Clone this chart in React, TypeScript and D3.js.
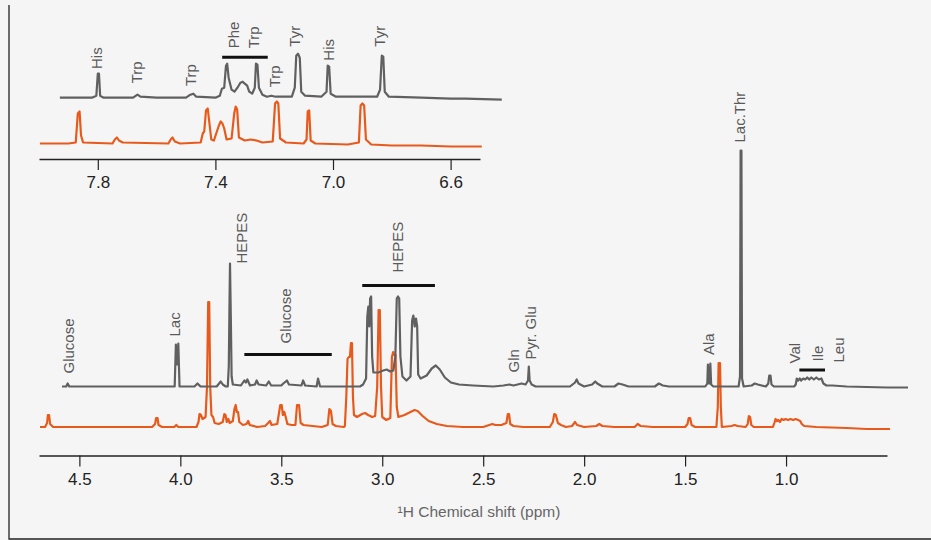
import React, { useEffect, useRef } from 'react';
import * as d3 from 'd3';

// main spectrum, [ppm, intensity]
const grayMain: [number, number][] = [
  [4.586, 0], [4.565, 0], [4.558, 3], [4.55, 0], [4.03, 0], [4.028, 0], [4.022, 42], [4.016, 22], [4.01, 43], [4.004, 0],
  [3.93, 0], [3.915, 3], [3.9, 0], [3.82, 0], [3.8, 5], [3.79, 2], [3.775, 0],
  [3.765, 0], [3.76, 20], [3.757, 74], [3.754, 123], [3.75, 70], [3.746, 10], [3.74, 2],
  [3.7, 1], [3.683, 6], [3.675, 4], [3.668, 7], [3.655, 1], [3.63, 2], [3.622, 6], [3.612, 2], [3.575, 1], [3.562, 5], [3.55, 1],
  [3.5, 1], [3.49, 3], [3.472, 6], [3.462, 2], [3.4, 1], [3.392, 6], [3.382, 1], [3.325, 0], [3.318, 8], [3.308, 0],
  [3.2, 0], [3.11, 0], [3.095, 2], [3.08, 8], [3.074, 70], [3.069, 80], [3.064, 60], [3.06, 88], [3.055, 90], [3.05, 30], [3.044, 14],
  [3.02, 14], [2.995, 16], [2.978, 17], [2.96, 15], [2.945, 16],
  [2.935, 30], [2.928, 88], [2.922, 90], [2.916, 88], [2.91, 30], [2.9, 10],
  [2.88, 6], [2.86, 10], [2.852, 66], [2.846, 71], [2.839, 60], [2.833, 68], [2.827, 60], [2.822, 12], [2.81, 8],
  [2.78, 11], [2.755, 18], [2.735, 21], [2.715, 17], [2.69, 9], [2.66, 4], [2.62, 2], [2.55, 1], [2.45, 0],
  [2.4, 1], [2.37, 2], [2.35, 1], [2.31, 3], [2.29, 2], [2.278, 6], [2.274, 20], [2.27, 6], [2.26, 2], [2.24, 0],
  [2.07, 0], [2.045, 4], [2.037, 7], [2.028, 3], [2.0, 0], [1.96, 2], [1.945, 5], [1.935, 3], [1.91, 0],
  [1.85, 0], [1.83, 3], [1.81, 2], [1.78, 0], [1.65, 0], [1.63, 3], [1.61, 1], [1.58, 0],
  [1.4, 0], [1.39, 3], [1.387, 22], [1.383, 3], [1.378, 3], [1.375, 23], [1.371, 2], [1.36, 0],
  [1.235, 0], [1.228, 10], [1.225, 236], [1.221, 236], [1.218, 8], [1.21, 0],
  [1.17, 1], [1.155, 3], [1.14, 2], [1.1, 0], [1.088, 3], [1.083, 11], [1.077, 11], [1.072, 2], [1.06, 0],
  [0.96, 0], [0.952, 2], [0.947, 8], [0.94, 6], [0.932, 8], [0.925, 6], [0.915, 8], [0.905, 7], [0.895, 9], [0.885, 7],
  [0.875, 9], [0.862, 7], [0.85, 9], [0.838, 7], [0.825, 8], [0.815, 3], [0.8, 1], [0.77, 1], [0.7, 0], [0.5, -1], [0.396, -1],
];

const orangeMain: [number, number][] = [
  [4.695, 0], [4.67, 0], [4.66, 4], [4.656, 12], [4.65, 12], [4.645, 3], [4.63, 0],
  [4.14, 0], [4.125, 3], [4.12, 9], [4.113, 9], [4.108, 2], [4.09, 0], [4.03, 0], [4.02, 2], [4.01, 0],
  [3.92, 0], [3.91, 5], [3.905, 13], [3.898, 12], [3.89, 8], [3.875, 10], [3.868, 40], [3.862, 125], [3.857, 125], [3.852, 40],
  [3.846, 12], [3.838, 10], [3.83, 4], [3.81, 3], [3.79, 5], [3.782, 13], [3.776, 12], [3.77, 5], [3.762, 8], [3.756, 4],
  [3.74, 6], [3.732, 18], [3.726, 22], [3.72, 15], [3.714, 15], [3.708, 5], [3.69, 2], [3.672, 3], [3.664, 6], [3.656, 2],
  [3.62, 0], [3.58, 1], [3.565, 4], [3.556, 6], [3.548, 2], [3.52, 3], [3.505, 22], [3.498, 22], [3.492, 12], [3.485, 15],
  [3.478, 10], [3.47, 3], [3.45, 2], [3.43, 2], [3.422, 22], [3.412, 22], [3.404, 4], [3.39, 2], [3.3, 0],
  [3.27, 2], [3.262, 18], [3.254, 16], [3.246, 3], [3.23, 1], [3.19, 0],
  [3.185, 1], [3.178, 30], [3.172, 68], [3.166, 70], [3.16, 70], [3.155, 84], [3.15, 84], [3.145, 30], [3.14, 12],
  [3.125, 10], [3.1, 13], [3.085, 14], [3.07, 12], [3.05, 10], [3.035, 11], [3.025, 40], [3.018, 117], [3.012, 117], [3.006, 40],
  [3.0, 10], [2.98, 7], [2.96, 9], [2.952, 70], [2.946, 75], [2.94, 72], [2.934, 72], [2.928, 20], [2.92, 10],
  [2.89, 12], [2.86, 15], [2.84, 17], [2.825, 16], [2.8, 11], [2.77, 6], [2.73, 3], [2.68, 1], [2.6, 0],
  [2.5, 0], [2.47, 2], [2.455, 3], [2.44, 2], [2.41, 2], [2.385, 4], [2.378, 13], [2.372, 13], [2.366, 3], [2.35, 1], [2.3, 0],
  [2.17, 0], [2.155, 5], [2.148, 13], [2.14, 12], [2.13, 4], [2.115, 2], [2.09, 0], [2.06, 1], [2.045, 5], [2.035, 2], [2.0, 0],
  [1.94, 1], [1.925, 3], [1.91, 1], [1.85, 0], [1.75, 0], [1.735, 3], [1.72, 1], [1.66, 0],
  [1.5, 0], [1.488, 3], [1.482, 9], [1.475, 9], [1.468, 2], [1.45, 0],
  [1.345, 0], [1.338, 20], [1.334, 64], [1.327, 64], [1.323, 20], [1.318, 0], [1.27, 1], [1.255, 2], [1.24, 1], [1.2, 0],
  [1.19, 3], [1.184, 11], [1.178, 10], [1.172, 2], [1.16, 0],
  [1.065, 0], [1.058, 4], [1.052, 8], [1.045, 6], [1.038, 7], [1.03, 5], [1.022, 8], [1.012, 7], [1.002, 8], [0.99, 7],
  [0.978, 8], [0.965, 7], [0.952, 8], [0.94, 7], [0.93, 6], [0.922, 3], [0.91, 1], [0.85, 0], [0.7, -1], [0.6, -2], [0.485, -2],
];

// aromatic region inset
const grayInset: [number, number][] = [
  [7.929, 0], [7.82, 0], [7.805, 2], [7.8, 24], [7.796, 24], [7.792, 2], [7.78, 0], [7.68, 0], [7.665, 3], [7.655, 1], [7.6, 0],
  [7.5, 0], [7.485, 3], [7.475, 4], [7.465, 1], [7.4, 0], [7.385, 2], [7.378, 9], [7.37, 10], [7.364, 32], [7.36, 34], [7.355, 20],
  [7.345, 8], [7.335, 6], [7.325, 10], [7.315, 15], [7.307, 16], [7.3, 14], [7.292, 12], [7.285, 6], [7.275, 4],
  [7.266, 10], [7.262, 34], [7.257, 33], [7.252, 10], [7.24, 3], [7.225, 1], [7.21, 2], [7.195, 1], [7.14, 1],
  [7.13, 10], [7.125, 42], [7.119, 44], [7.113, 40], [7.108, 6], [7.095, 2], [7.04, 1], [7.022, 6], [7.018, 32], [7.013, 31],
  [7.008, 4], [6.99, 1], [6.85, 1], [6.84, 8], [6.834, 42], [6.829, 41], [6.824, 6], [6.81, 1], [6.7, 0], [6.6, -1], [6.55, -1], [6.426, -2],
];

const orangeInset: [number, number][] = [
  [7.997, 0], [7.9, 0], [7.875, 1], [7.868, 30], [7.862, 32], [7.857, 8], [7.85, 1], [7.75, 0], [7.742, 4], [7.735, 6], [7.728, 3],
  [7.715, 1], [7.56, 0], [7.552, 4], [7.546, 6], [7.538, 2], [7.52, 0], [7.45, 1], [7.443, 10], [7.438, 12], [7.432, 33],
  [7.426, 35], [7.421, 22], [7.414, 4], [7.405, 3], [7.395, 12], [7.388, 18], [7.382, 22], [7.376, 20], [7.37, 15], [7.362, 4],
  [7.345, 5], [7.336, 30], [7.331, 37], [7.326, 34], [7.32, 6], [7.3, 3], [7.28, 4], [7.26, 3], [7.24, 1], [7.205, 2],
  [7.197, 40], [7.191, 42], [7.186, 40], [7.18, 5], [7.16, 1], [7.1, 0], [7.09, 4], [7.086, 32], [7.081, 33], [7.076, 3],
  [7.06, 0], [6.95, -1], [6.912, 1], [6.906, 38], [6.9, 40], [6.894, 38], [6.888, 4], [6.87, -1], [6.8, -2], [6.7, -2], [6.6, -3], [6.494, -3],
];

// labels: [text, ppm, intensity level of the text start (above gray trace)]
const mainLabels: [string, number, number][] = [
  ['Glucose', 4.551, 13], ['Lac', 4.026, 50], ['HEPES', 3.696, 123], ['Glucose', 3.477, 43], ['HEPES', 2.925, 114],
  ['Gln', 2.351, 14], ['Pyr. Glu', 2.265, 27], ['Ala', 1.385, 31.5], ['Lac.Thr', 1.228, 244],
  ['Val', 0.959, 23], ['Ile', 0.845, 25], ['Leu', 0.741, 24],
];
// group bars: [from ppm, to ppm, level]
const mainBars: [number, number, number][] = [[3.683, 3.25, 32], [3.099, 2.739, 101], [0.934, 0.807, 16.5]];

const insetLabels: [string, number, number][] = [
  ['His', 7.804, 28.7], ['Trp', 7.668, 14.4], ['Trp', 7.484, 11.7], ['Phe', 7.336, 49.4], ['Trp', 7.271, 49.4],
  ['Trp', 7.197, 10.4], ['Tyr', 7.129, 51], ['His', 7.016, 37], ['Tyr', 6.84, 51],
];
const insetBars: [number, number, number][] = [[7.377, 7.222, 40.4]];

const mainTicks = [4.5, 4.0, 3.5, 3.0, 2.5, 2.0, 1.5, 1.0];
const insetTicks = [7.8, 7.4, 7.0, 6.6];

const W = 931;
const H = 540;
const GRAY = '#606060';
const ORANGE = '#e85a1c';
const FONT = '"Liberation Sans", Arial, sans-serif';

export default function App() {
  const svgRef = useRef<SVGSVGElement>(null);

  useEffect(() => {
    const svg = d3.select(svgRef.current);
    svg.selectAll('*').remove();

    svg.append('rect').attr('width', W).attr('height', H).attr('fill', '#f5f5f5');
    // frame (left and bottom)
    svg.append('path').attr('d', `M9,5V539H${W}`).attr('fill', 'none').attr('stroke', '#222').attr('stroke-width', 1.3);

    const drawPanel = (opts: {
      domain: [number, number]; range: [number, number]; axisY: number;
      grayBase: number; orangeBase: number; gray: [number, number][]; orange: [number, number][];
      ticks: number[]; labels: [string, number, number][]; bars: [number, number, number][];
    }) => {
      const x = d3.scaleLinear().domain(opts.domain).range(opts.range);
      const h = d3.scaleLinear().domain([0, 100]).range([0, 100]);
      const g = svg.append('g');

      const lineAt = (base: number) => d3.line<[number, number]>()
        .x((d) => x(d[0]))
        .y((d) => base - h(d[1]));

      g.append('path').datum(opts.orange).attr('d', lineAt(opts.orangeBase))
        .attr('fill', 'none').attr('stroke', ORANGE).attr('stroke-width', 2.2).attr('stroke-linejoin', 'round');
      g.append('path').datum(opts.gray).attr('d', lineAt(opts.grayBase))
        .attr('fill', 'none').attr('stroke', GRAY).attr('stroke-width', 2.2).attr('stroke-linejoin', 'round');

      g.selectAll('text.lbl')
        .data(opts.labels)
        .enter()
        .append('text')
        .attr('class', 'lbl')
        .attr('transform', (d) => `translate(${x(d[1])},${opts.grayBase - h(d[2])}) rotate(-90)`)
        .attr('dy', '0.35em')
        .attr('font-family', FONT)
        .attr('font-size', 15)
        .attr('fill', '#5a5a5a')
        .text((d) => d[0]);

      g.selectAll('line.bar')
        .data(opts.bars)
        .enter()
        .append('line')
        .attr('x1', (d) => x(d[0]))
        .attr('x2', (d) => x(d[1]))
        .attr('y1', (d) => opts.grayBase - h(d[2]))
        .attr('y2', (d) => opts.grayBase - h(d[2]))
        .attr('stroke', '#111')
        .attr('stroke-width', 3);

      const axis = d3.axisBottom(x).tickValues(opts.ticks).tickFormat(d3.format('.1f'))
        .tickSize(11).tickSizeOuter(0).tickPadding(6);
      const ax = g.append('g').attr('transform', `translate(0,${opts.axisY})`).call(axis);
      ax.select('.domain').attr('stroke', '#222').attr('stroke-width', 1.3);
      ax.selectAll('.tick line').attr('stroke', '#222').attr('stroke-width', 1.2);
      ax.selectAll('.tick text').attr('font-family', FONT).attr('font-size', 17).attr('fill', '#222');
      return x;
    };

    drawPanel({
      domain: [4.7, 0.5], range: [39, 887], axisY: 455.5,
      grayBase: 386.5, orangeBase: 427, gray: grayMain, orange: orangeMain,
      ticks: mainTicks, labels: mainLabels, bars: mainBars,
    });

    drawPanel({
      domain: [8.0, 6.5], range: [39, 480], axisY: 159,
      grayBase: 97.7, orangeBase: 143.5, gray: grayInset, orange: orangeInset,
      ticks: insetTicks, labels: insetLabels, bars: insetBars,
    });

    svg.append('text')
      .attr('x', 479)
      .attr('y', 517)
      .attr('text-anchor', 'middle')
      .attr('font-family', FONT)
      .attr('font-size', 15.5)
      .attr('fill', '#666')
      .text('¹H Chemical shift (ppm)');
  }, []);

  return (
    <svg ref={svgRef} width={W} height={H} style={{ position: 'absolute', left: 0, top: 0, display: 'block' }} />
  );
}
